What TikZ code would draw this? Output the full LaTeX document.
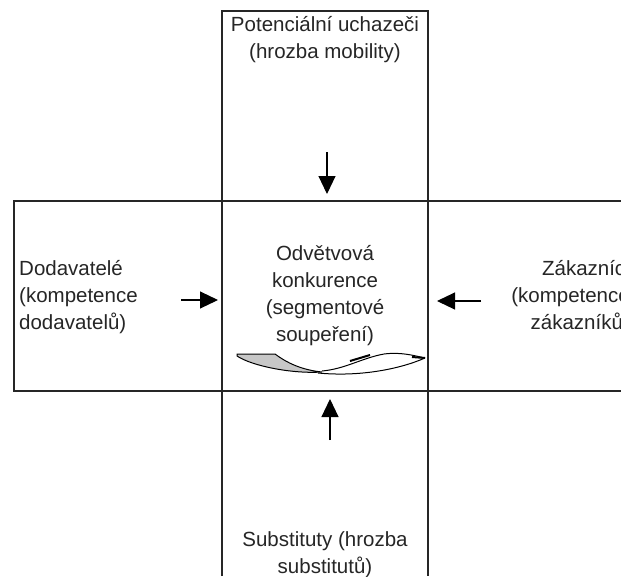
\documentclass[tikz,border=0pt]{standalone}
\usepackage{fontspec}
\setmainfont{Liberation Sans}
\usetikzlibrary{arrows.meta}
\begin{document}
\begin{tikzpicture}[x=1pt,y=-1pt,
  frame/.style={line width=1.1pt,black!85},
  lbl/.style={inner sep=0pt,font=\fontsize{20.5}{27}\selectfont,text=black!85},
  force/.style={line width=1.1pt,-{Triangle[length=18pt,width=17pt]}},
  swoosh/.style={line width=1pt}]
\clip (0,0) rectangle (621,576);
\fill[white] (0,0) rectangle (621,576);
% frames
\draw[frame] (222,576) -- (222,11) -- (428,11) -- (428,576);
\draw[frame] (640,201) -- (14,201) -- (14,391) -- (640,391);
% texts
\node[lbl,align=center] (top) at (325,40) {Potenciální uchazeči\\(hrozba mobility)};
\node[lbl,align=center] (mid) at (325,296) {Odvětvová\\konkurence\\(segmentové\\soupeření)};
\node[lbl,align=left,anchor=west] (left) at (19,297) {Dodavatelé\\(kompetence\\dodavatelů)};
\node[lbl,align=right,anchor=east] (right) at (630,297) {Zákazníci\\(kompetence\\zákazníků)};
\node[lbl,align=center] (bottom) at (325,555) {Substituty (hrozba\\substitutů)};
% arrows
\coordinate (ta) at (327,152); \coordinate (th) at (327,194);
\coordinate (la) at (181,300); \coordinate (lh) at (218,300);
\coordinate (ra) at (481,301); \coordinate (rh) at (437,301);
\coordinate (ba) at (330,440); \coordinate (bh) at (330,399);
\draw[force] (ta) -- (th);
\draw[force] (la) -- (lh);
\draw[force] (ra) -- (rh);
\draw[force] (ba) -- (bh);
% swoosh
\filldraw[swoosh,fill=black!22] (237,354) -- (275,354) .. controls (287,363) and (302,370) .. (322,372)
  .. controls (292,374) and (252,366) .. (237,356) -- cycle;
\draw[swoosh] (318,373) .. controls (360,377) and (400,369) .. (425,358);
\draw[swoosh] (322,371) .. controls (345,369) and (362,358) .. (384,354)
  .. controls (400,352) and (412,355) .. (425,358);
\draw[line width=2pt] (350,361) -- (370,355);
\draw[line width=2pt] (412,357) -- (425,358);
\end{tikzpicture}
\end{document}
